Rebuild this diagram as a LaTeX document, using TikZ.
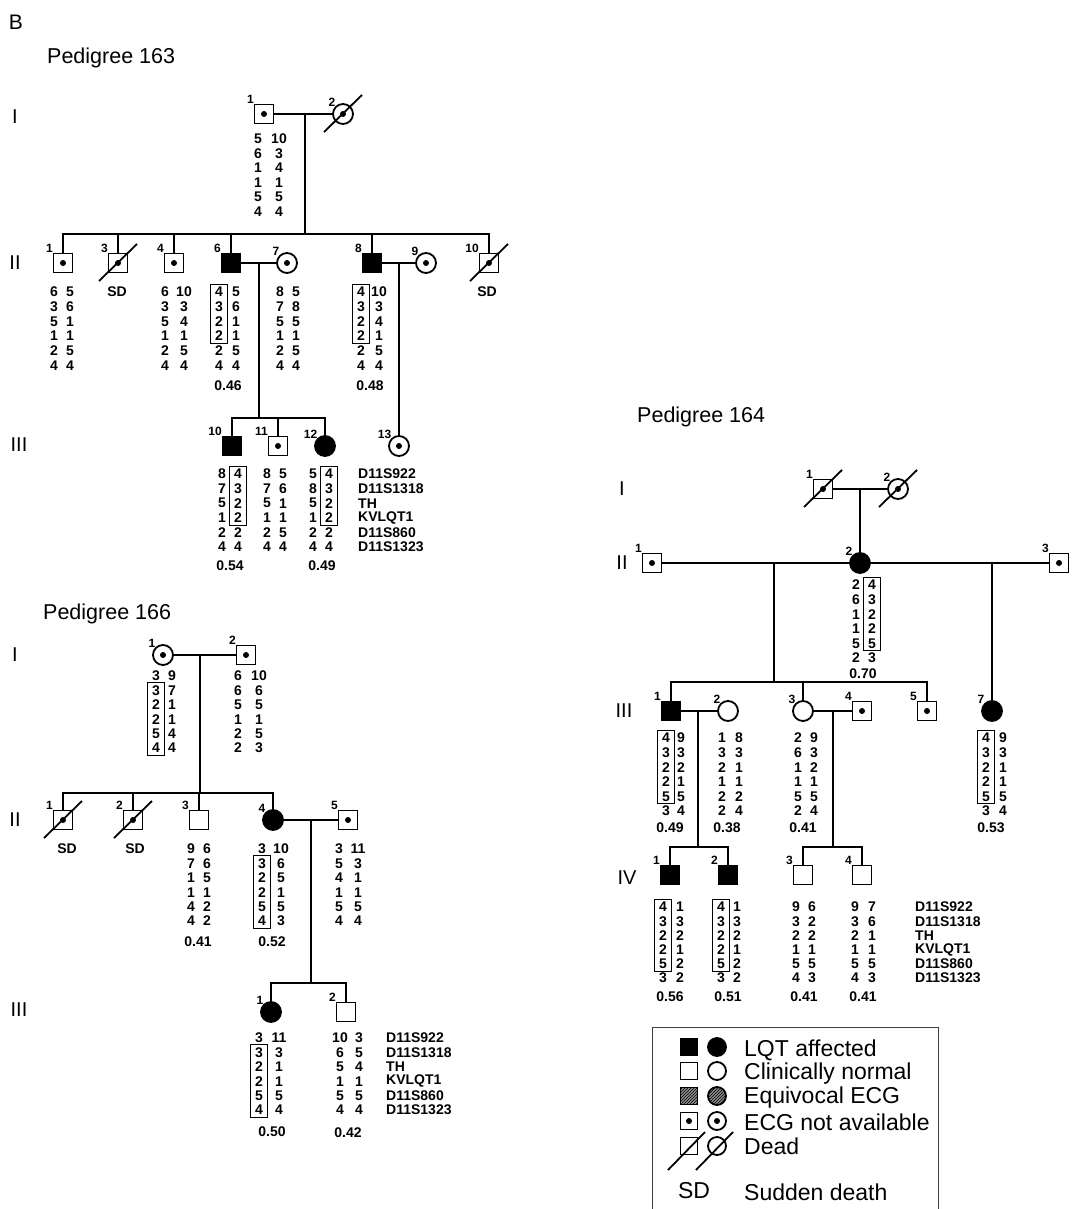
\documentclass[tikz,border=0pt]{standalone}
\usepackage{fontspec}
\setmainfont{Liberation Sans}
\usetikzlibrary{calc,fit,patterns}
\newcommand{\hcol}[5]{%
  \foreach \v [count=\i] in {#5} {\node[num] (#1-\i) at (#2,{#3+#4*(\i-1)}) {\v};}}
\newcommand{\mkcol}[4]{%
  \foreach \v [count=\i] in {D11S922,D11S1318,TH,KVLQT1,D11S860,D11S1323} {\node[mk] (#1-\i) at (#2,{#3+#4*(\i-1)}) {\v};}}
\newcommand{\hbx}[2]{\node[hbox, fit=(#1)(#2)] (#1box) {};}
\newcommand{\deadmark}[1]{\draw[ln] ($(#1)+(-19,18)$) -- ($(#1)+(19,-19)$);}
\tikzset{
  ln/.style={line width=1.8pt},
  sq/.style={draw, line width=1.8pt, rectangle, minimum size=19pt, inner sep=0pt, outer sep=0pt},
  ci/.style={draw, line width=1.8pt, circle, minimum size=20pt, inner sep=0pt, outer sep=0pt},
  af/.style={fill=black},
  dt/.style={path picture={\fill[black] (path picture bounding box.center) circle (3pt);}},
  idl/.style={font=\bfseries\fontsize{12}{12}\selectfont, inner sep=0.5pt},
  pid/.style={label={[idl,anchor=south east]north west:#1}},
  num/.style={font=\bfseries\fontsize{14}{14}\selectfont, inner sep=0pt, minimum width=17pt, minimum height=14.6pt, anchor=center},
  dec/.style={font=\bfseries\fontsize{14}{14}\selectfont, inner sep=0pt},
  mk/.style={font=\bfseries\fontsize{14}{14}\selectfont, inner sep=0pt, anchor=west},
  hbox/.style={draw, line width=1.1pt, inner sep=0pt},
  gen/.style={font=\fontsize{20}{20}\selectfont, inner sep=0pt},
  ttl/.style={font=\fontsize{21.5}{21.5}\selectfont, inner sep=0pt, anchor=west},
  lgt/.style={font=\fontsize{23}{23}\selectfont, inner sep=0pt, anchor=west},
  lsq/.style={sq, minimum size=17pt},
  lci/.style={ci, minimum size=18pt},
}
\begin{document}
\begin{tikzpicture}[x=1pt,y=-1pt]
\useasboundingbox (0,0) rectangle (1073,1209);
\fill[white] (0,0) rectangle (1073,1209);
\node[font=\fontsize{21}{21}\selectfont, inner sep=0pt] (B) at (16,22) {B};
% ================= Pedigree 163
\node[ttl] (t163) at (47,58) {Pedigree 163};
\node[gen] (g1a) at (15,117) {I};
\node[gen] (g2a) at (15,263) {II};
\node[gen] (g3a) at (19,445) {III};
\node[sq,dt,pid=1] (a11) at (264,114) {};
\node[ci,dt,pid=2] (a12) at (343,114) {};
\deadmark{a12}
\draw[ln] (a11) -- (a12);
\coordinate (a1m) at (305,114);
\coordinate (a2s) at (305,234);
\draw[ln] (a1m) -- (a2s);
\hcol{a1l}{258}{139}{14.5}{5,6,1,1,5,4}
\hcol{a1r}{279}{139}{14.5}{10,3,4,1,5,4}
\node[sq,dt,pid=1] (a21) at (63,263) {};
\node[sq,dt,pid=3] (a23) at (118,263) {};
\deadmark{a23}
\node[sq,dt,pid=4] (a24) at (174,263) {};
\node[sq,af,pid=6] (a26) at (231,263) {};
\node[ci,dt,pid=7] (a27) at (287,263) {};
\node[sq,af,pid=8] (a28) at (372,263) {};
\node[ci,dt,pid=9] (a29) at (426,263) {};
\node[sq,dt,pid=10] (a210) at (489,263) {};
\deadmark{a210}
\foreach \c in {a21,a23,a24,a26,a28,a210} {\draw[ln] (\c.north) |- (a2s);}
\draw[ln] (a26) -- (a27);
\draw[ln] (a28) -- (a29);
\node[dec] (a23sd) at (117,292) {SD};
\node[dec] (a210sd) at (487,292) {SD};
\hcol{a21l}{54}{292}{14.7}{6,3,5,1,2,4}
\hcol{a21r}{70}{292}{14.7}{5,6,1,1,5,4}
\hcol{a24l}{165}{292}{14.7}{6,3,5,1,2,4}
\hcol{a24r}{184}{292}{14.7}{10,3,4,1,5,4}
\hcol{a26l}{219}{292}{14.7}{4,3,2,2,2,4}
\hcol{a26r}{236}{292}{14.7}{5,6,1,1,5,4}
\hbx{a26l-1}{a26l-4}
\hcol{a27l}{280}{292}{14.7}{8,7,5,1,2,4}
\hcol{a27r}{296}{292}{14.7}{5,8,5,1,5,4}
\hcol{a28l}{361}{292}{14.7}{4,3,2,2,2,4}
\hcol{a28r}{379}{292}{14.7}{10,3,4,1,5,4}
\hbx{a28l-1}{a28l-4}
\node[dec] (a26p) at (228,386) {0.46};
\node[dec] (a28p) at (370,386) {0.48};
\coordinate (a67) at (259,263);
\coordinate (a3s) at (259,418);
\draw[ln] (a67) -- (a3s);
\coordinate (a89) at (399,263);
\node[sq,af,pid=10] (a310) at (232,446) {};
\node[sq,dt,pid=11] (a311) at (278,446) {};
\node[ci,af,pid=12] (a312) at (325,446) {};
\node[ci,dt,pid=13] (a313) at (399,446) {};
\draw[ln] (a89) -- (a313.north);
\foreach \c in {a310,a311,a312} {\draw[ln] (\c.north) |- (a3s);}
\hcol{a310l}{222}{474}{14.6}{8,7,5,1,2,4}
\hcol{a310r}{238}{474}{14.6}{4,3,2,2,2,4}
\hbx{a310r-1}{a310r-4}
\hcol{a311l}{267}{474}{14.6}{8,7,5,1,2,4}
\hcol{a311r}{283}{474}{14.6}{5,6,1,1,5,4}
\hcol{a312l}{313}{474}{14.6}{5,8,5,1,2,4}
\hcol{a312r}{329}{474}{14.6}{4,3,2,2,2,4}
\hbx{a312r-1}{a312r-4}
\node[dec] (a310p) at (230,566) {0.54};
\node[dec] (a312p) at (322,566) {0.49};
\mkcol{a3mk}{358}{474}{14.6}
% ================= Pedigree 166
\node[ttl] (t166) at (43,614) {Pedigree 166};
\node[gen] (g1b) at (15,655) {I};
\node[gen] (g2b) at (15,820) {II};
\node[gen] (g3b) at (19,1010) {III};
\node[ci,dt,pid=1] (b11) at (163,655) {};
\node[sq,dt,pid=2] (b12) at (246,655) {};
\draw[ln] (b11) -- (b12);
\coordinate (b1m) at (200,655);
\coordinate (b2s) at (200,793);
\draw[ln] (b1m) -- (b2s);
\hcol{b11l}{156}{676}{14.4}{3,3,2,2,5,4}
\hcol{b11r}{172}{676}{14.4}{9,7,1,1,4,4}
\hbx{b11l-2}{b11l-6}
\hcol{b12l}{238}{676}{14.4}{6,6,5,1,2,2}
\hcol{b12r}{259}{676}{14.4}{10,6,5,1,5,3}
\node[sq,dt,pid=1] (b21) at (63,820) {};
\deadmark{b21}
\node[sq,dt,pid=2] (b22) at (133,820) {};
\deadmark{b22}
\node[sq,pid=3] (b23) at (199,820) {};
\node[ci,af,pid=4] (b24) at (273,820) {};
\node[sq,dt,pid=5] (b25) at (348,820) {};
\foreach \c in {b21,b22,b23,b24} {\draw[ln] (\c.north) |- (b2s);}
\draw[ln] (b24) -- (b25);
\node[dec] (b21sd) at (67,849) {SD};
\node[dec] (b22sd) at (135,849) {SD};
\hcol{b23l}{191}{849}{14.4}{9,7,1,1,4,4}
\hcol{b23r}{207}{849}{14.4}{6,6,5,1,2,2}
\hcol{b24l}{262}{849}{14.4}{3,3,2,2,5,4}
\hcol{b24r}{281}{849}{14.4}{10,6,5,1,5,3}
\hbx{b24l-2}{b24l-6}
\hcol{b25l}{339}{849}{14.4}{3,5,4,1,5,4}
\hcol{b25r}{358}{849}{14.4}{11,3,1,1,5,4}
\node[dec] (b23p) at (198,942) {0.41};
\node[dec] (b24p) at (272,942) {0.52};
\coordinate (b45) at (311,820);
\coordinate (b3s) at (311,983);
\draw[ln] (b45) -- (b3s);
\node[ci,af,pid=1] (b31) at (271,1012) {};
\node[sq,pid=2] (b32) at (346,1012) {};
\foreach \c in {b31,b32} {\draw[ln] (\c.north) |- (b3s);}
\hcol{b31l}{259}{1038}{14.4}{3,3,2,2,5,4}
\hcol{b31r}{279}{1038}{14.4}{11,3,1,1,5,4}
\hbx{b31l-2}{b31l-6}
\hcol{b32l}{340}{1038}{14.4}{10,6,5,1,5,4}
\hcol{b32r}{359}{1038}{14.4}{3,5,4,1,5,4}
\node[dec] (b31p) at (272,1132) {0.50};
\node[dec] (b32p) at (348,1133) {0.42};
\mkcol{b3mk}{386}{1038}{14.4}
% ================= Pedigree 164
\node[ttl] (t164) at (637,417) {Pedigree 164};
\node[gen] (g1c) at (622,489) {I};
\node[gen] (g2c) at (622,563) {II};
\node[gen] (g3c) at (624,711) {III};
\node[gen] (g4c) at (627,878) {IV};
\node[sq,dt,pid=1] (c11) at (823,489) {};
\deadmark{c11}
\node[ci,dt,pid=2] (c12) at (898,489) {};
\deadmark{c12}
\draw[ln] (c11) -- (c12);
\coordinate (c1m) at (860,489);
\node[sq,dt,pid=1] (c21) at (652,563) {};
\node[ci,af,pid=2] (c22) at (860,563) {};
\node[sq,dt,pid=3] (c23) at (1059,563) {};
\draw[ln] (c1m) -- (c22.north);
\draw[ln] (c21) -- (c22);
\draw[ln] (c22) -- (c23);
\hcol{c22l}{856}{585}{14.6}{2,6,1,1,5,2}
\hcol{c22r}{872}{585}{14.6}{4,3,2,2,5,3}
\hbx{c22r-1}{c22r-5}
\node[dec] (c22p) at (863,674) {0.70};
\coordinate (c2a) at (774,563);
\coordinate (c3s) at (774,682);
\draw[ln] (c2a) -- (c3s);
\coordinate (c2b) at (992,563);
\node[sq,af,pid=1] (c31) at (671,711) {};
\node[ci,pid=2] (c32) at (728,711) {};
\node[ci,pid=3] (c33) at (803,711) {};
\node[sq,dt,pid=4] (c34) at (862,711) {};
\node[sq,dt,pid=5] (c35) at (927,711) {};
\node[ci,af,pid=7] (c37) at (992,711) {};
\draw[ln] (c2b) -- (c37.north);
\foreach \c in {c31,c33,c35} {\draw[ln] (\c.north) |- (c3s);}
\draw[ln] (c31) -- (c32);
\draw[ln] (c33) -- (c34);
\hcol{c31l}{666}{738}{14.6}{4,3,2,2,5,3}
\hcol{c31r}{681}{738}{14.6}{9,3,2,1,5,4}
\hbx{c31l-1}{c31l-5}
\hcol{c32l}{722}{738}{14.6}{1,3,2,1,2,2}
\hcol{c32r}{739}{738}{14.6}{8,3,1,1,2,4}
\hcol{c33l}{798}{738}{14.6}{2,6,1,1,5,2}
\hcol{c33r}{814}{738}{14.6}{9,3,2,1,5,4}
\hcol{c37l}{986}{738}{14.6}{4,3,2,2,5,3}
\hcol{c37r}{1003}{738}{14.6}{9,3,1,1,5,4}
\hbx{c37l-1}{c37l-5}
\node[dec] (c31p) at (670,828) {0.49};
\node[dec] (c32p) at (727,828) {0.38};
\node[dec] (c33p) at (803,828) {0.41};
\node[dec] (c37p) at (991,828) {0.53};
\coordinate (c12m) at (698,711);
\coordinate (c4s) at (698,847);
\draw[ln] (c12m) -- (c4s);
\coordinate (c34m) at (833,711);
\coordinate (c4t) at (833,847);
\draw[ln] (c34m) -- (c4t);
\node[sq,af,pid=1] (c41) at (670,875) {};
\node[sq,af,pid=2] (c42) at (728,875) {};
\node[sq,pid=3] (c43) at (803,875) {};
\node[sq,pid=4] (c44) at (862,875) {};
\foreach \c in {c41,c42} {\draw[ln] (\c.north) |- (c4s);}
\foreach \c in {c43,c44} {\draw[ln] (\c.north) |- (c4t);}
\hcol{c41l}{663}{907}{14.2}{4,3,2,2,5,3}
\hcol{c41r}{680}{907}{14.2}{1,3,2,1,2,2}
\hbx{c41l-1}{c41l-5}
\hcol{c42l}{721}{907}{14.2}{4,3,2,2,5,3}
\hcol{c42r}{737}{907}{14.2}{1,3,2,1,2,2}
\hbx{c42l-1}{c42l-5}
\hcol{c43l}{796}{907}{14.2}{9,3,2,1,5,4}
\hcol{c43r}{812}{907}{14.2}{6,2,2,1,5,3}
\hcol{c44l}{855}{907}{14.2}{9,3,2,1,5,4}
\hcol{c44r}{872}{907}{14.2}{7,6,1,1,5,3}
\node[dec] (c41p) at (670,997) {0.56};
\node[dec] (c42p) at (728,997) {0.51};
\node[dec] (c43p) at (804,997) {0.41};
\node[dec] (c44p) at (863,997) {0.41};
\mkcol{c4mk}{915}{907}{14.2}
% ================= Legend
\draw[line width=0.8pt, black!75] (652,1209) |- (938,1027) -- (938,1209);
\node[lsq,af] (l1s) at (689,1047) {};
\node[lci,af] (l1c) at (717,1047) {};
\node[lgt] (l1t) at (744,1050) {LQT affected};
\node[lsq] (l2s) at (689,1071) {};
\node[lci] (l2c) at (717,1071) {};
\node[lgt] (l2t) at (744,1074) {Clinically normal};
\node[lsq,fill=black!45,postaction={pattern=north east lines}] (l3s) at (689,1096) {};
\node[lci,fill=black!45,postaction={pattern=north east lines}] (l3c) at (717,1096) {};
\node[lgt] (l3t) at (744,1098) {Equivocal ECG};
\node[lsq,dt] (l4s) at (689,1121) {};
\node[lci,dt] (l4c) at (717,1121) {};
\node[lgt] (l4t) at (744,1122) {ECG not available};
\node[lsq] (l5s) at (689,1146) {};
\node[lci] (l5c) at (717,1146) {};
\draw[ln] ($(l5s)+(-21,24)$) -- ($(l5s)+(16,-14)$);
\draw[ln] ($(l5c)+(-21,24)$) -- ($(l5c)+(16,-14)$);
\node[lgt] (l5t) at (744,1146) {Dead};
\node[font=\fontsize{23}{23}\selectfont, inner sep=0pt] (l6s) at (694,1191) {SD};
\node[lgt] (l6t) at (744,1192) {Sudden death};
\end{tikzpicture}
\end{document}
